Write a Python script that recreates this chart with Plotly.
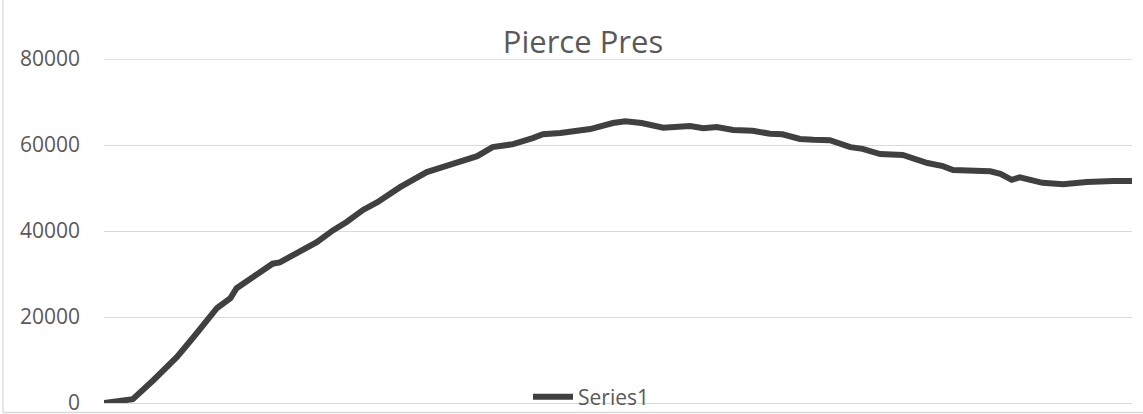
import plotly.graph_objects as go

# Sample position (arbitrary units) and pressure values
sample = [0, 2.8, 4.8, 7.1, 8.7, 10.3, 11.0, 12.3, 12.9, 14.5, 16.4, 17.1, 19.1,
          20.7, 22.3, 23.6, 25.2, 26.6, 28.8, 31.4, 33.0, 35.3, 36.3, 37.8, 39.8,
          41.7, 42.7, 44.4, 47.3, 49.5, 50.7, 52.3, 54.4, 57.0, 58.3, 59.6, 61.2,
          63.1, 64.8, 66.0, 67.7, 69.0, 70.6, 72.6, 73.8, 75.5, 77.7, 80.1, 81.6,
          82.6, 86.2, 87.2, 88.3, 89.1, 91.3, 93.3, 95.6, 98.2, 100]
pressure = [0, 900, 5300, 10700, 15300, 20000, 22100, 24400, 26700, 29300, 32400,
            32700, 35100, 37400, 40200, 42100, 44900, 46700, 50200, 53700, 54900,
            56700, 57400, 59500, 60200, 61600, 62500, 62800, 63700, 65100, 65500,
            65100, 64000, 64400, 63900, 64200, 63500, 63300, 62600, 62500, 61400,
            61200, 61100, 59500, 59100, 57900, 57700, 55800, 55100, 54200, 53900,
            53300, 51900, 52500, 51200, 50900, 51400, 51600, 51600]
y_ticks = [0, 20000, 40000, 60000, 80000]
series_name = "Series1"
title_text = "Pierce Pres"

FONT = "Open Sans, Liberation Sans, sans-serif"
GRID = "#d9d9d9"
TXT = "#595959"

fig = go.Figure()
fig.add_trace(go.Scatter(
    x=sample, y=pressure, mode="lines", name=series_name,
    line=dict(color="#404040", width=6, shape="linear"),
))

W, H = 1143, 414
L, R, T, B = 104, 11, 59, 11
pw, ph = W - L - R, H - T - B

def px_x(p):
    return (p - L) / pw

def px_y(p):
    return (H - B - p) / ph

fig.update_layout(
    width=W, height=H,
    margin=dict(l=L, r=R, t=T, b=B, pad=0, autoexpand=False),
    paper_bgcolor="white", plot_bgcolor="white",
    font=dict(family=FONT, color=TXT),
    title=dict(text=title_text, x=583 / W, xanchor="center",
               y=1 - 42 / H, yanchor="middle", yref="container",
               font=dict(size=31, color=TXT, family=FONT)),
    showlegend=True,
    legend=dict(orientation="h", x=px_x(591), xanchor="center",
                y=px_y(397), yanchor="middle",
                font=dict(size=21, color=TXT, family=FONT),
                bgcolor="rgba(0,0,0,0)", itemwidth=40),
    xaxis=dict(range=[0, 100], showgrid=False, zeroline=False,
               showticklabels=False, showline=False, ticks="",
               automargin=False),
    yaxis=dict(range=[0, 80000], tickvals=y_ticks,
               ticktext=[str(v) for v in y_ticks],
               showgrid=True, gridcolor=GRID, gridwidth=1.3,
               zeroline=True, zerolinecolor=GRID, zerolinewidth=1.3,
               showline=False, ticks="", ticklabelstandoff=23,
               ticklabeloverflow="allow",
               automargin=False,
               tickfont=dict(size=21, color=TXT, family=FONT)),
    shapes=[
        # top gridline (edge of the plot area)
        dict(type="line", xref="paper", yref="y",
             x0=0, x1=1, y0=y_ticks[-1], y1=y_ticks[-1], layer="below",
             line=dict(color=GRID, width=1.3)),
        # chart-area border (left and bottom)
        dict(type="line", xref="paper", yref="paper",
             x0=px_x(3), x1=px_x(3), y0=px_y(412.5), y1=px_y(0),
             line=dict(color=GRID, width=1.3)),
        dict(type="line", xref="paper", yref="paper",
             x0=px_x(3), x1=px_x(W + 2), y0=px_y(412.5), y1=px_y(412.5),
             line=dict(color=GRID, width=1.3)),
    ],
)

fig.write_html(
    "out.html",
    config={"displayModeBar": False},
    post_script="document.body.style.margin='0';document.body.style.overflow='hidden';",
)
